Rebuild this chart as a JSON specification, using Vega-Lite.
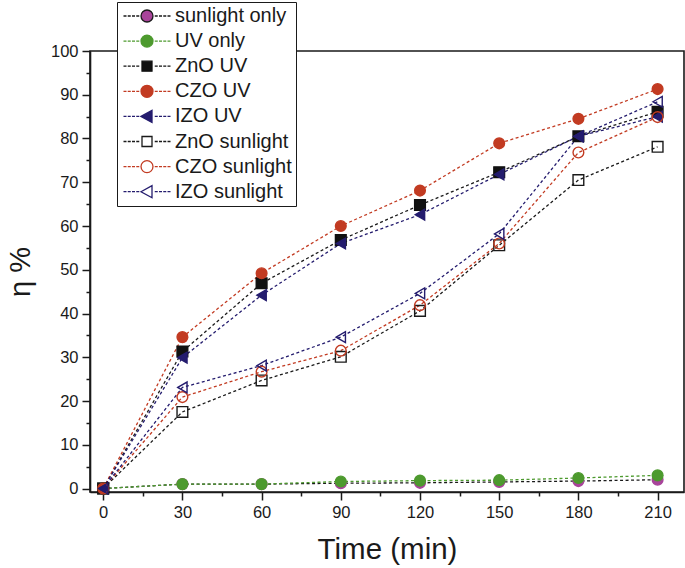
{
  "$schema": "https://vega.github.io/schema/vega-lite/v6.json",
  "width": 594,
  "height": 441,
  "autosize": {"type": "none"},
  "padding": {"left": 90, "top": 51, "right": 1, "bottom": 76},
  "background": "white",
  "config": {
    "view": {"stroke": "#1a1a1a", "strokeWidth": 1.6},
    "font": "Liberation Sans",
    "axis": {
      "domainColor": "#1a1a1a",
      "domainWidth": 1.6,
      "tickColor": "#1a1a1a",
      "tickWidth": 1.5,
      "grid": false,
      "labelFont": "Liberation Sans",
      "labelFontSize": 16.5,
      "labelColor": "#1a1a1a",
      "titleFont": "Liberation Sans",
      "titleFontWeight": "normal",
      "titleColor": "#1a1a1a"
    }
  },
  "data": {
    "values": [
      {"series": "sunlight only", "time": 0, "eta": 0},
      {"series": "sunlight only", "time": 30, "eta": 1.0},
      {"series": "sunlight only", "time": 60, "eta": 1.0},
      {"series": "sunlight only", "time": 90, "eta": 1.2},
      {"series": "sunlight only", "time": 120, "eta": 1.3},
      {"series": "sunlight only", "time": 150, "eta": 1.5},
      {"series": "sunlight only", "time": 180, "eta": 1.7},
      {"series": "sunlight only", "time": 210, "eta": 2.0},
      {"series": "UV only", "time": 0, "eta": 0},
      {"series": "UV only", "time": 30, "eta": 1.0},
      {"series": "UV only", "time": 60, "eta": 1.0},
      {"series": "UV only", "time": 90, "eta": 1.6},
      {"series": "UV only", "time": 120, "eta": 1.8},
      {"series": "UV only", "time": 150, "eta": 1.9},
      {"series": "UV only", "time": 180, "eta": 2.4},
      {"series": "UV only", "time": 210, "eta": 3.0},
      {"series": "ZnO UV", "time": 0, "eta": 0},
      {"series": "ZnO UV", "time": 30, "eta": 31.3},
      {"series": "ZnO UV", "time": 60, "eta": 46.9},
      {"series": "ZnO UV", "time": 90, "eta": 56.8},
      {"series": "ZnO UV", "time": 120, "eta": 64.8},
      {"series": "ZnO UV", "time": 150, "eta": 72.3},
      {"series": "ZnO UV", "time": 180, "eta": 80.5},
      {"series": "ZnO UV", "time": 210, "eta": 86.1},
      {"series": "CZO UV", "time": 0, "eta": 0},
      {"series": "CZO UV", "time": 30, "eta": 34.6},
      {"series": "CZO UV", "time": 60, "eta": 49.2},
      {"series": "CZO UV", "time": 90, "eta": 60.0},
      {"series": "CZO UV", "time": 120, "eta": 68.1},
      {"series": "CZO UV", "time": 150, "eta": 78.9},
      {"series": "CZO UV", "time": 180, "eta": 84.5},
      {"series": "CZO UV", "time": 210, "eta": 91.3},
      {"series": "IZO UV", "time": 0, "eta": 0},
      {"series": "IZO UV", "time": 30, "eta": 29.9},
      {"series": "IZO UV", "time": 60, "eta": 44.2},
      {"series": "IZO UV", "time": 90, "eta": 56.0},
      {"series": "IZO UV", "time": 120, "eta": 62.6},
      {"series": "IZO UV", "time": 150, "eta": 71.8},
      {"series": "IZO UV", "time": 180, "eta": 80.5},
      {"series": "IZO UV", "time": 210, "eta": 85.0},
      {"series": "ZnO sunlight", "time": 0, "eta": 0},
      {"series": "ZnO sunlight", "time": 30, "eta": 17.5},
      {"series": "ZnO sunlight", "time": 60, "eta": 24.7},
      {"series": "ZnO sunlight", "time": 90, "eta": 30.1},
      {"series": "ZnO sunlight", "time": 120, "eta": 40.6},
      {"series": "ZnO sunlight", "time": 150, "eta": 55.6},
      {"series": "ZnO sunlight", "time": 180, "eta": 70.5},
      {"series": "ZnO sunlight", "time": 210, "eta": 78.1},
      {"series": "CZO sunlight", "time": 0, "eta": 0},
      {"series": "CZO sunlight", "time": 30, "eta": 20.9},
      {"series": "CZO sunlight", "time": 60, "eta": 26.7},
      {"series": "CZO sunlight", "time": 90, "eta": 31.5},
      {"series": "CZO sunlight", "time": 120, "eta": 41.9},
      {"series": "CZO sunlight", "time": 150, "eta": 56.0},
      {"series": "CZO sunlight", "time": 180, "eta": 76.8},
      {"series": "CZO sunlight", "time": 210, "eta": 84.9},
      {"series": "IZO sunlight", "time": 0, "eta": 0},
      {"series": "IZO sunlight", "time": 30, "eta": 23.1},
      {"series": "IZO sunlight", "time": 60, "eta": 28.1},
      {"series": "IZO sunlight", "time": 90, "eta": 34.6},
      {"series": "IZO sunlight", "time": 120, "eta": 44.6},
      {"series": "IZO sunlight", "time": 150, "eta": 58.2},
      {"series": "IZO sunlight", "time": 180, "eta": 80.5},
      {"series": "IZO sunlight", "time": 210, "eta": 88.4}
    ]
  },
  "encoding": {
    "x": {
      "field": "time",
      "type": "quantitative",
      "scale": {"domain": [-5, 220], "nice": false, "zero": false},
      "axis": {
        "title": "Time (min)",
        "titleFontSize": 29.5,
        "titlePadding": 15,
        "values": [0, 15, 30, 45, 60, 75, 90, 105, 120, 135, 150, 165, 180, 195, 210],
        "labelExpr": "datum.value % 30 === 0 ? datum.label : ''",
        "tickSize": {"condition": {"test": "datum.value % 30 === 0", "value": 8}, "value": 4},
        "labelPadding": 4
      }
    },
    "y": {
      "field": "eta",
      "type": "quantitative",
      "scale": {"domain": [-0.8, 100], "nice": false, "zero": false},
      "axis": {
        "title": "η %",
        "titleFontSize": 29,
        "titlePadding": 15,
        "values": [0, 5, 10, 15, 20, 25, 30, 35, 40, 45, 50, 55, 60, 65, 70, 75, 80, 85, 90, 95, 100],
        "labelExpr": "datum.value % 10 === 0 ? datum.label : ''",
        "tickSize": {"condition": {"test": "datum.value % 10 === 0", "value": 8}, "value": 4},
        "labelPadding": 4
      }
    }
  },
  "resolve": {"scale": {"shape": "independent", "fill": "independent", "stroke": "independent"}},
  "layer": [
    {
      "mark": {"type": "line", "strokeDash": [3, 2.5], "strokeWidth": 1.3},
      "encoding": {
        "detail": {"field": "series"},
        "color": {
          "field": "series",
          "type": "nominal",
          "scale": {
            "domain": ["IZO sunlight", "CZO sunlight", "ZnO sunlight", "IZO UV", "CZO UV", "ZnO UV", "UV only", "sunlight only"],
            "range": ["#241c6e", "#c23b22", "#1a1a1a", "#241c6e", "#c23b22", "#1a1a1a", "#4d9a2e", "#1a1a1a"]
          },
          "legend": null
        }
      }
    },
    {
      "mark": {"type": "point", "size": 115, "strokeWidth": 1.4, "opacity": 1},
      "encoding": {
        "shape": {
          "field": "series",
          "type": "nominal",
          "scale": {
            "domain": ["sunlight only", "UV only", "ZnO UV", "CZO UV", "IZO UV", "ZnO sunlight", "CZO sunlight", "IZO sunlight"],
            "range": ["circle", "circle", "square", "circle", "triangle-left", "square", "circle", "triangle-left"]
          },
          "legend": null
        },
        "fill": {
          "field": "series",
          "type": "nominal",
          "scale": {
            "domain": ["sunlight only", "UV only", "ZnO UV", "CZO UV", "IZO UV", "ZnO sunlight", "CZO sunlight", "IZO sunlight"],
            "range": ["#a8449a", "#4d9a2e", "#111111", "#c23b22", "#241c6e", "transparent", "transparent", "transparent"]
          },
          "legend": null
        },
        "stroke": {
          "field": "series",
          "type": "nominal",
          "scale": {
            "domain": ["sunlight only", "UV only", "ZnO UV", "CZO UV", "IZO UV", "ZnO sunlight", "CZO sunlight", "IZO sunlight"],
            "range": ["#a8449a", "#4d9a2e", "#111111", "#c23b22", "#241c6e", "#1a1a1a", "#c23b22", "#241c6e"]
          },
          "legend": null
        }
      }
    },
    {
      "transform": [{"filter": "false"}],
      "mark": {"type": "point", "strokeWidth": 1.3, "opacity": 1},
      "encoding": {
        "shape": {
          "field": "series",
          "type": "nominal",
          "scale": {
            "domain": ["sunlight only", "UV only", "ZnO UV", "CZO UV", "IZO UV", "ZnO sunlight", "CZO sunlight", "IZO sunlight"],
            "range": [
              "M-1.2,0a1.2,1.2 0 1,0 2.4,0a1.2,1.2 0 1,0 -2.4,0ZM-4.7,0h0.6M-3.85,0h0.6M-3,0h0.6M-2.15,0h0.6M1.55,0h0.6M2.4,0h0.6M3.25,0h0.6M4.1,0h0.6",
              "M-1.2,0a1.2,1.2 0 1,0 2.4,0a1.2,1.2 0 1,0 -2.4,0ZM-4.7,0h0.6M-3.85,0h0.6M-3,0h0.6M-2.15,0h0.6M1.55,0h0.6M2.4,0h0.6M3.25,0h0.6M4.1,0h0.6",
              "M-1,-1h2v2h-2ZM-4.7,0h0.6M-3.85,0h0.6M-3,0h0.6M-2.15,0h0.6M1.55,0h0.6M2.4,0h0.6M3.25,0h0.6M4.1,0h0.6",
              "M-1.2,0a1.2,1.2 0 1,0 2.4,0a1.2,1.2 0 1,0 -2.4,0ZM-4.7,0h0.6M-3.85,0h0.6M-3,0h0.6M-2.15,0h0.6M1.55,0h0.6M2.4,0h0.6M3.25,0h0.6M4.1,0h0.6",
              "M-1.2,0L1,-1.2L1,1.2ZM-4.7,0h0.6M-3.85,0h0.6M-3,0h0.6M-2.15,0h0.6M1.55,0h0.6M2.4,0h0.6M3.25,0h0.6M4.1,0h0.6",
              "M-1,-1h2v2h-2ZM-4.7,0h0.6M-3.85,0h0.6M-3,0h0.6M-2.15,0h0.6M1.55,0h0.6M2.4,0h0.6M3.25,0h0.6M4.1,0h0.6",
              "M-1.2,0a1.2,1.2 0 1,0 2.4,0a1.2,1.2 0 1,0 -2.4,0ZM-4.7,0h0.6M-3.85,0h0.6M-3,0h0.6M-2.15,0h0.6M1.55,0h0.6M2.4,0h0.6M3.25,0h0.6M4.1,0h0.6",
              "M-1.2,0L1,-1.2L1,1.2ZM-4.7,0h0.6M-3.85,0h0.6M-3,0h0.6M-2.15,0h0.6M1.55,0h0.6M2.4,0h0.6M3.25,0h0.6M4.1,0h0.6"
            ]
          },
          "legend": {
            "title": null,
            "orient": "none",
            "legendX": 27,
            "legendY": -49,
            "padding": 4,
            "fillColor": "white",
            "strokeColor": "#1a1a1a",
            "labelFont": "Liberation Sans",
            "labelFontSize": 20,
            "labelColor": "#1a1a1a",
            "symbolSize": 100,
            "symbolStrokeWidth": 1.3,
            "symbolOpacity": 1,
            "symbolOffset": 16,
            "labelOffset": 18,
            "rowPadding": 5.1
          }
        },
        "fill": {
          "field": "series",
          "type": "nominal",
          "scale": {
            "domain": ["sunlight only", "UV only", "ZnO UV", "CZO UV", "IZO UV", "ZnO sunlight", "CZO sunlight", "IZO sunlight"],
            "range": ["#a8449a", "#4d9a2e", "#111111", "#c23b22", "#241c6e", "transparent", "transparent", "transparent"]
          }
        },
        "stroke": {
          "field": "series",
          "type": "nominal",
          "scale": {
            "domain": ["sunlight only", "UV only", "ZnO UV", "CZO UV", "IZO UV", "ZnO sunlight", "CZO sunlight", "IZO sunlight"],
            "range": ["#1a1a1a", "#4d9a2e", "#111111", "#c23b22", "#241c6e", "#1a1a1a", "#c23b22", "#241c6e"]
          }
        }
      }
    }
  ]
}
